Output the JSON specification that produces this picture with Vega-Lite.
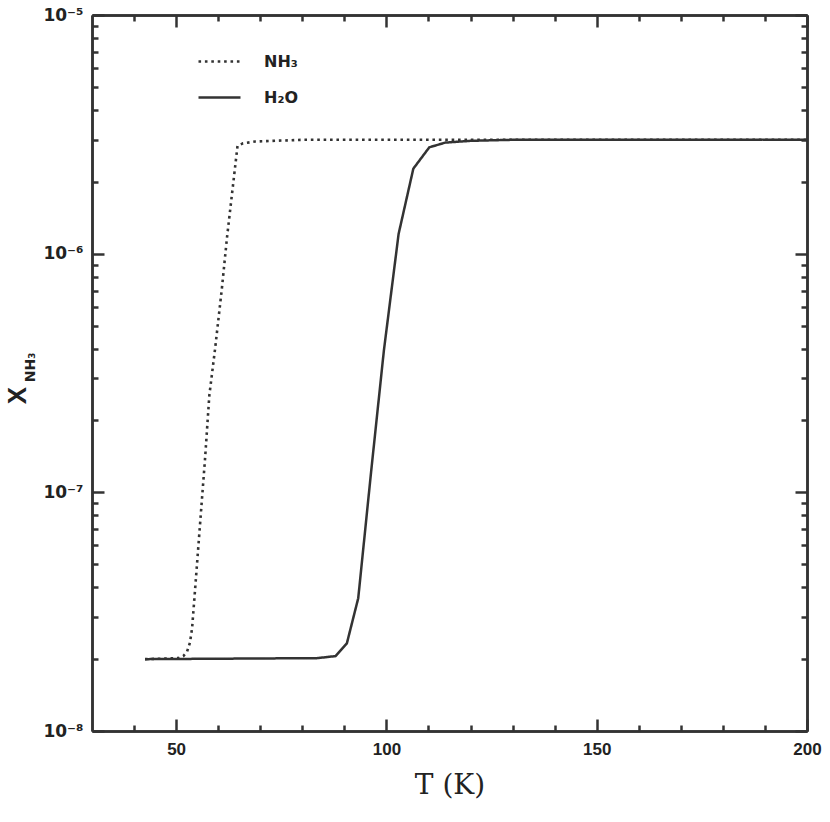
{
  "$schema": "https://vega.github.io/schema/vega-lite/v6.json",
  "width": 715,
  "height": 716,
  "autosize": "none",
  "padding": {"left": 92, "top": 15, "right": 23, "bottom": 91},
  "background": "white",
  "config": {
    "view": {"stroke": null},
    "axis": {
      "grid": false,
      "domainColor": "#333333",
      "domainWidth": 2.5,
      "tickColor": "#333333",
      "tickWidth": 2.5,
      "labelColor": "#222222",
      "titleColor": "#222222"
    }
  },
  "data": {
    "values": [
      {"species": "NH₃", "T": 42.6, "X": 2.0e-8},
      {"species": "NH₃", "T": 50.5, "X": 2.02e-8},
      {"species": "NH₃", "T": 51.7, "X": 2.06e-8},
      {"species": "NH₃", "T": 52.6, "X": 2.15e-8},
      {"species": "NH₃", "T": 53.3, "X": 2.35e-8},
      {"species": "NH₃", "T": 53.8, "X": 2.7e-8},
      {"species": "NH₃", "T": 54.5, "X": 3.9e-8},
      {"species": "NH₃", "T": 55.7, "X": 7.4e-8},
      {"species": "NH₃", "T": 56.9, "X": 1.4e-7},
      {"species": "NH₃", "T": 57.9, "X": 2.55e-7},
      {"species": "NH₃", "T": 59.3, "X": 4.04e-7},
      {"species": "NH₃", "T": 60.9, "X": 7.2e-7},
      {"species": "NH₃", "T": 62.1, "X": 1.17e-6},
      {"species": "NH₃", "T": 64.6, "X": 2.83e-6},
      {"species": "NH₃", "T": 65.9, "X": 2.9e-6},
      {"species": "NH₃", "T": 68.8, "X": 2.95e-6},
      {"species": "NH₃", "T": 80, "X": 3.0e-6},
      {"species": "NH₃", "T": 200, "X": 3.0e-6},
      {"species": "H₂O", "T": 42.6, "X": 2.0e-8},
      {"species": "H₂O", "T": 83.6, "X": 2.02e-8},
      {"species": "H₂O", "T": 87.9, "X": 2.06e-8},
      {"species": "H₂O", "T": 90.6, "X": 2.33e-8},
      {"species": "H₂O", "T": 93.3, "X": 3.6e-8},
      {"species": "H₂O", "T": 96.3, "X": 1.19e-7},
      {"species": "H₂O", "T": 99.4, "X": 3.93e-7},
      {"species": "H₂O", "T": 102.9, "X": 1.21e-6},
      {"species": "H₂O", "T": 106.4, "X": 2.27e-6},
      {"species": "H₂O", "T": 110.2, "X": 2.79e-6},
      {"species": "H₂O", "T": 114.0, "X": 2.92e-6},
      {"species": "H₂O", "T": 120, "X": 2.97e-6},
      {"species": "H₂O", "T": 130, "X": 3.0e-6},
      {"species": "H₂O", "T": 200, "X": 3.0e-6}
    ]
  },
  "layer": [
    {
      "transform": [{"filter": "datum.species === 'NH₃'"}],
      "mark": {"type": "line", "strokeWidth": 2.6, "strokeCap": "butt"},
      "encoding": {
        "x": {
          "field": "T", "type": "quantitative",
          "scale": {"domain": [30, 200], "nice": false, "zero": false},
          "axis": {
            "orient": "bottom",
            "values": [50, 100, 150, 200],
            "tickSize": -12,
            "labelFont": "Liberation Sans",
            "labelFontWeight": "bold",
            "labelFontSize": 17,
            "labelPadding": 22,
            "labelFlush": false,
            "labelOverlap": false,
            "title": "T (K)",
            "titleFont": "DejaVu Serif",
            "titleFontSize": 28,
            "titleFontWeight": "normal",
            "titleBaseline": "alphabetic",
            "titleY": 62
          }
        },
        "y": {
          "field": "X", "type": "quantitative",
          "scale": {"type": "log", "domain": [1e-8, 1e-5], "nice": false},
          "axis": {
            "orient": "left",
            "values": [1e-8, 1e-7, 1e-6, 1e-5],
            "labelExpr": "'10' + ['⁻⁸','⁻⁷','⁻⁶','⁻⁵'][round(log(datum.value)/LN10) + 8]",
            "tickSize": -12,
            "labelFont": "DejaVu Sans",
            "labelFontWeight": "bold",
            "labelFontSize": 17,
            "labelPadding": 21,
            "labelFlush": false,
            "labelOverlap": false,
            "title": "X",
            "titleFont": "Liberation Sans",
            "titleFontSize": 26,
            "titleFontWeight": "bold",
            "titleAngle": -90,
            "titleAlign": "center",
            "titleBaseline": "middle",
            "titleX": -75,
            "titleY": 380
          }
        },
        "color": {
          "field": "species", "type": "nominal",
          "scale": {"domain": ["NH₃", "H₂O"], "range": ["#333333", "#333333"]},
          "legend": {
            "orient": "none", "legendX": 105, "legendY": 24, "title": null, "padding": 0,
            "symbolType": "stroke", "symbolSize": 1764, "symbolStrokeWidth": 2.5,
            "labelFont": "DejaVu Sans", "labelFontWeight": "bold", "labelFontSize": 16,
            "labelColor": "#222222", "labelOffset": 22, "rowPadding": 5
          }
        },
        "strokeDash": {
          "field": "species", "type": "nominal",
          "scale": {"domain": ["NH₃", "H₂O"], "range": [[2.6, 3.8], [1, 0]]},
          "legend": {
            "orient": "none", "legendX": 105, "legendY": 24, "title": null, "padding": 0,
            "symbolType": "stroke", "symbolSize": 1764, "symbolStrokeWidth": 2.5,
            "labelFont": "DejaVu Sans", "labelFontWeight": "bold", "labelFontSize": 16,
            "labelColor": "#222222", "labelOffset": 22, "rowPadding": 5
          }
        }
      }
    },
    {
      "transform": [{"filter": "datum.species === 'H₂O'"}],
      "mark": {"type": "line", "strokeWidth": 2.5},
      "encoding": {
        "x": {
          "field": "T", "type": "quantitative",
          "scale": {"domain": [30, 200], "nice": false, "zero": false},
          "axis": {"orient": "top", "values": [50, 100, 150, 200], "labels": false, "tickSize": -12, "title": null}
        },
        "y": {
          "field": "X", "type": "quantitative",
          "scale": {"type": "log", "domain": [1e-8, 1e-5], "nice": false},
          "axis": {"orient": "right", "values": [1e-8, 1e-7, 1e-6, 1e-5], "labels": false, "tickSize": -12, "title": null}
        },
        "color": {"field": "species", "type": "nominal"},
        "strokeDash": {"field": "species", "type": "nominal"}
      }
    },
    {
      "transform": [{"filter": "false"}],
      "mark": {"type": "line"},
      "encoding": {
        "x": {
          "field": "T", "type": "quantitative",
          "axis": {"orient": "bottom", "values": [40, 60, 70, 80, 90, 110, 120, 130, 140, 160, 170, 180, 190], "labels": false, "tickSize": -6, "title": null}
        },
        "y": {
          "field": "X", "type": "quantitative",
          "axis": {"orient": "left", "values": [2e-8, 3e-8, 4e-8, 5e-8, 6e-8, 7e-8, 8e-8, 9e-8, 2e-7, 3e-7, 4e-7, 5e-7, 6e-7, 7e-7, 8e-7, 9e-7, 2e-6, 3e-6, 4e-6, 5e-6, 6e-6, 7e-6, 8e-6, 9e-6], "labels": false, "tickSize": -6, "title": null}
        }
      }
    },
    {
      "transform": [{"filter": "false"}],
      "mark": {"type": "line"},
      "encoding": {
        "x": {
          "field": "T", "type": "quantitative",
          "axis": {"orient": "top", "values": [40, 60, 70, 80, 90, 110, 120, 130, 140, 160, 170, 180, 190], "labels": false, "tickSize": -6, "title": null}
        },
        "y": {
          "field": "X", "type": "quantitative",
          "axis": {"orient": "right", "values": [2e-8, 3e-8, 4e-8, 5e-8, 6e-8, 7e-8, 8e-8, 9e-8, 2e-7, 3e-7, 4e-7, 5e-7, 6e-7, 7e-7, 8e-7, 9e-7, 2e-6, 3e-6, 4e-6, 5e-6, 6e-6, 7e-6, 8e-6, 9e-6], "labels": false, "tickSize": -6, "title": null}
        }
      }
    },
    {
      "transform": [{"filter": "false"}],
      "mark": {"type": "line"},
      "encoding": {
        "x": {"field": "T", "type": "quantitative", "axis": null},
        "y": {
          "field": "X", "type": "quantitative",
          "axis": {
            "orient": "left",
            "domain": false, "ticks": false, "labels": false,
            "title": "NH₃",
            "titleFont": "DejaVu Sans",
            "titleFontSize": 14,
            "titleFontWeight": "bold",
            "titleAngle": -90,
            "titleAlign": "center",
            "titleBaseline": "middle",
            "titleX": -62,
            "titleY": 352
          }
        }
      }
    }
  ],
  "resolve": {"axis": {"x": "independent", "y": "independent"}}
}
